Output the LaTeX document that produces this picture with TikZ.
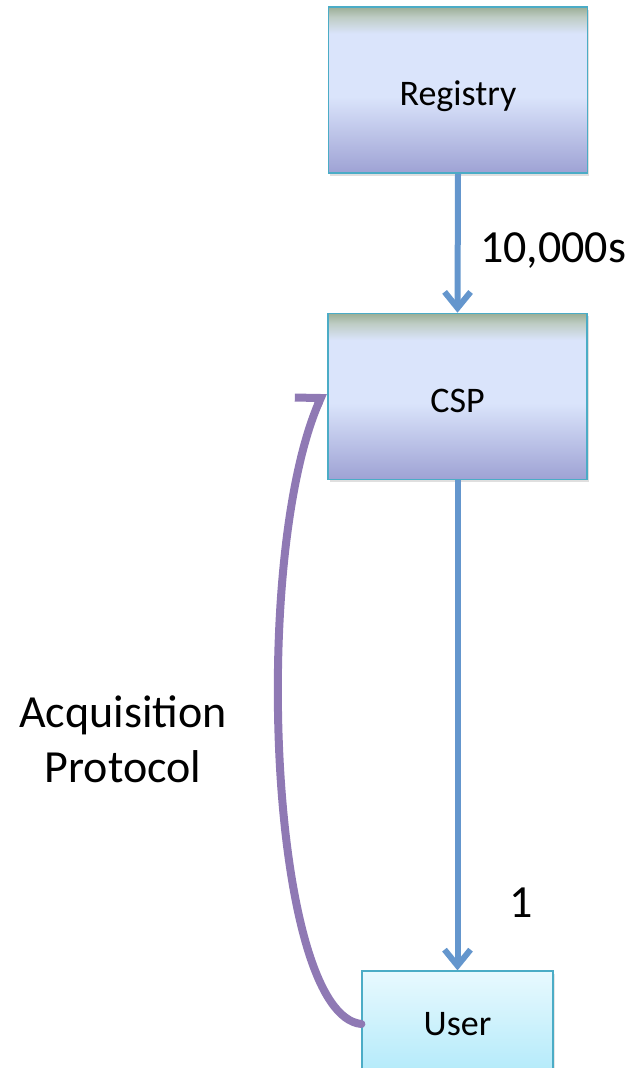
\documentclass[tikz,border=0pt]{standalone}
\usepackage{fontspec}
\setmainfont{Carlito}
\usetikzlibrary{arrows.meta,shadows}

\definecolor{boxline}{RGB}{75,172,198}
\definecolor{shtop}{RGB}{155,174,150}
\definecolor{shtopmid}{RGB}{190,204,196}
\definecolor{shmid}{RGB}{218,228,251}
\definecolor{shbot}{RGB}{158,162,212}
\definecolor{usertop}{RGB}{232,249,254}
\definecolor{userbot}{RGB}{178,234,250}
\definecolor{flowblue}{RGB}{100,150,205}
\definecolor{acqpurple}{RGB}{143,121,180}

% vertical shading of the two service boxes: dark band on top, light body, darker base
\pgfdeclareverticalshading{servshade}{100bp}{%
  color(0bp)=(shbot); color(25bp)=(shbot);
  color(48bp)=(shmid); color(67bp)=(shmid);
  color(72bp)=(shtopmid); color(75bp)=(shtop); color(100bp)=(shtop)}

\tikzset{
  boxtext/.style={font=\fontsize{36}{42}\selectfont, text height=34pt, text depth=3pt},
  servbox/.style={draw=boxline, line width=1.6pt, shading=servshade,
    minimum width=259pt, minimum height=166pt, inner sep=0pt, boxtext,
    drop shadow={shadow xshift=1.5pt, shadow yshift=-2.5pt, opacity=0.25}},
  userbox/.style={draw=boxline, line width=1.2pt, top color=usertop, bottom color=userbot,
    minimum width=191pt, minimum height=106pt, inner sep=0pt, boxtext,
    text height=25pt, text depth=3pt,
    drop shadow={shadow xshift=1.5pt, shadow yshift=-2.5pt, opacity=0.2}},
  lbl/.style={inner sep=0pt, font=\fontsize{46}{55}\selectfont},
  flow/.style={draw=flowblue, line width=6pt,
    -{Straight Barb[length=16pt, width=26pt, line width=6pt]}},
  acq/.style={draw=acqpurple, line width=8pt, line cap=round,
    -{Straight Barb[harpoon, length=10pt, width=48pt, line width=8pt]}}
}

\begin{document}
\begin{tikzpicture}[x=1pt, y=-1pt]
  \useasboundingbox (0,0) rectangle (639,1068);

  % nodes
  \node[servbox] (reg) at (458,90) {Registry};
  \node[servbox] (csp) at (457.5,396.5) {CSP};
  \node[userbox] (user) at (457.5,1024) {User};

  % flow of credentials from the registry down to the user
  \draw[flow] (reg.south) -- (csp.north);
  \draw[flow] (csp.south) -- (user.north);

  % multiplicity labels
  \node[lbl, anchor=base west] (many) at (480,262) {10,000s};
  \node[lbl, anchor=base] (one) at (521,917) {1};

  % acquisition protocol from the user back to the CSP
  \draw[acq] (user.west) .. controls (270,1015) and (250,560) .. ([xshift=-4pt, yshift=4pt]csp.west);
  \node[lbl, align=center, anchor=base] (acqlbl) at (123,782) {Acquisition\\Protocol};
\end{tikzpicture}
\end{document}
